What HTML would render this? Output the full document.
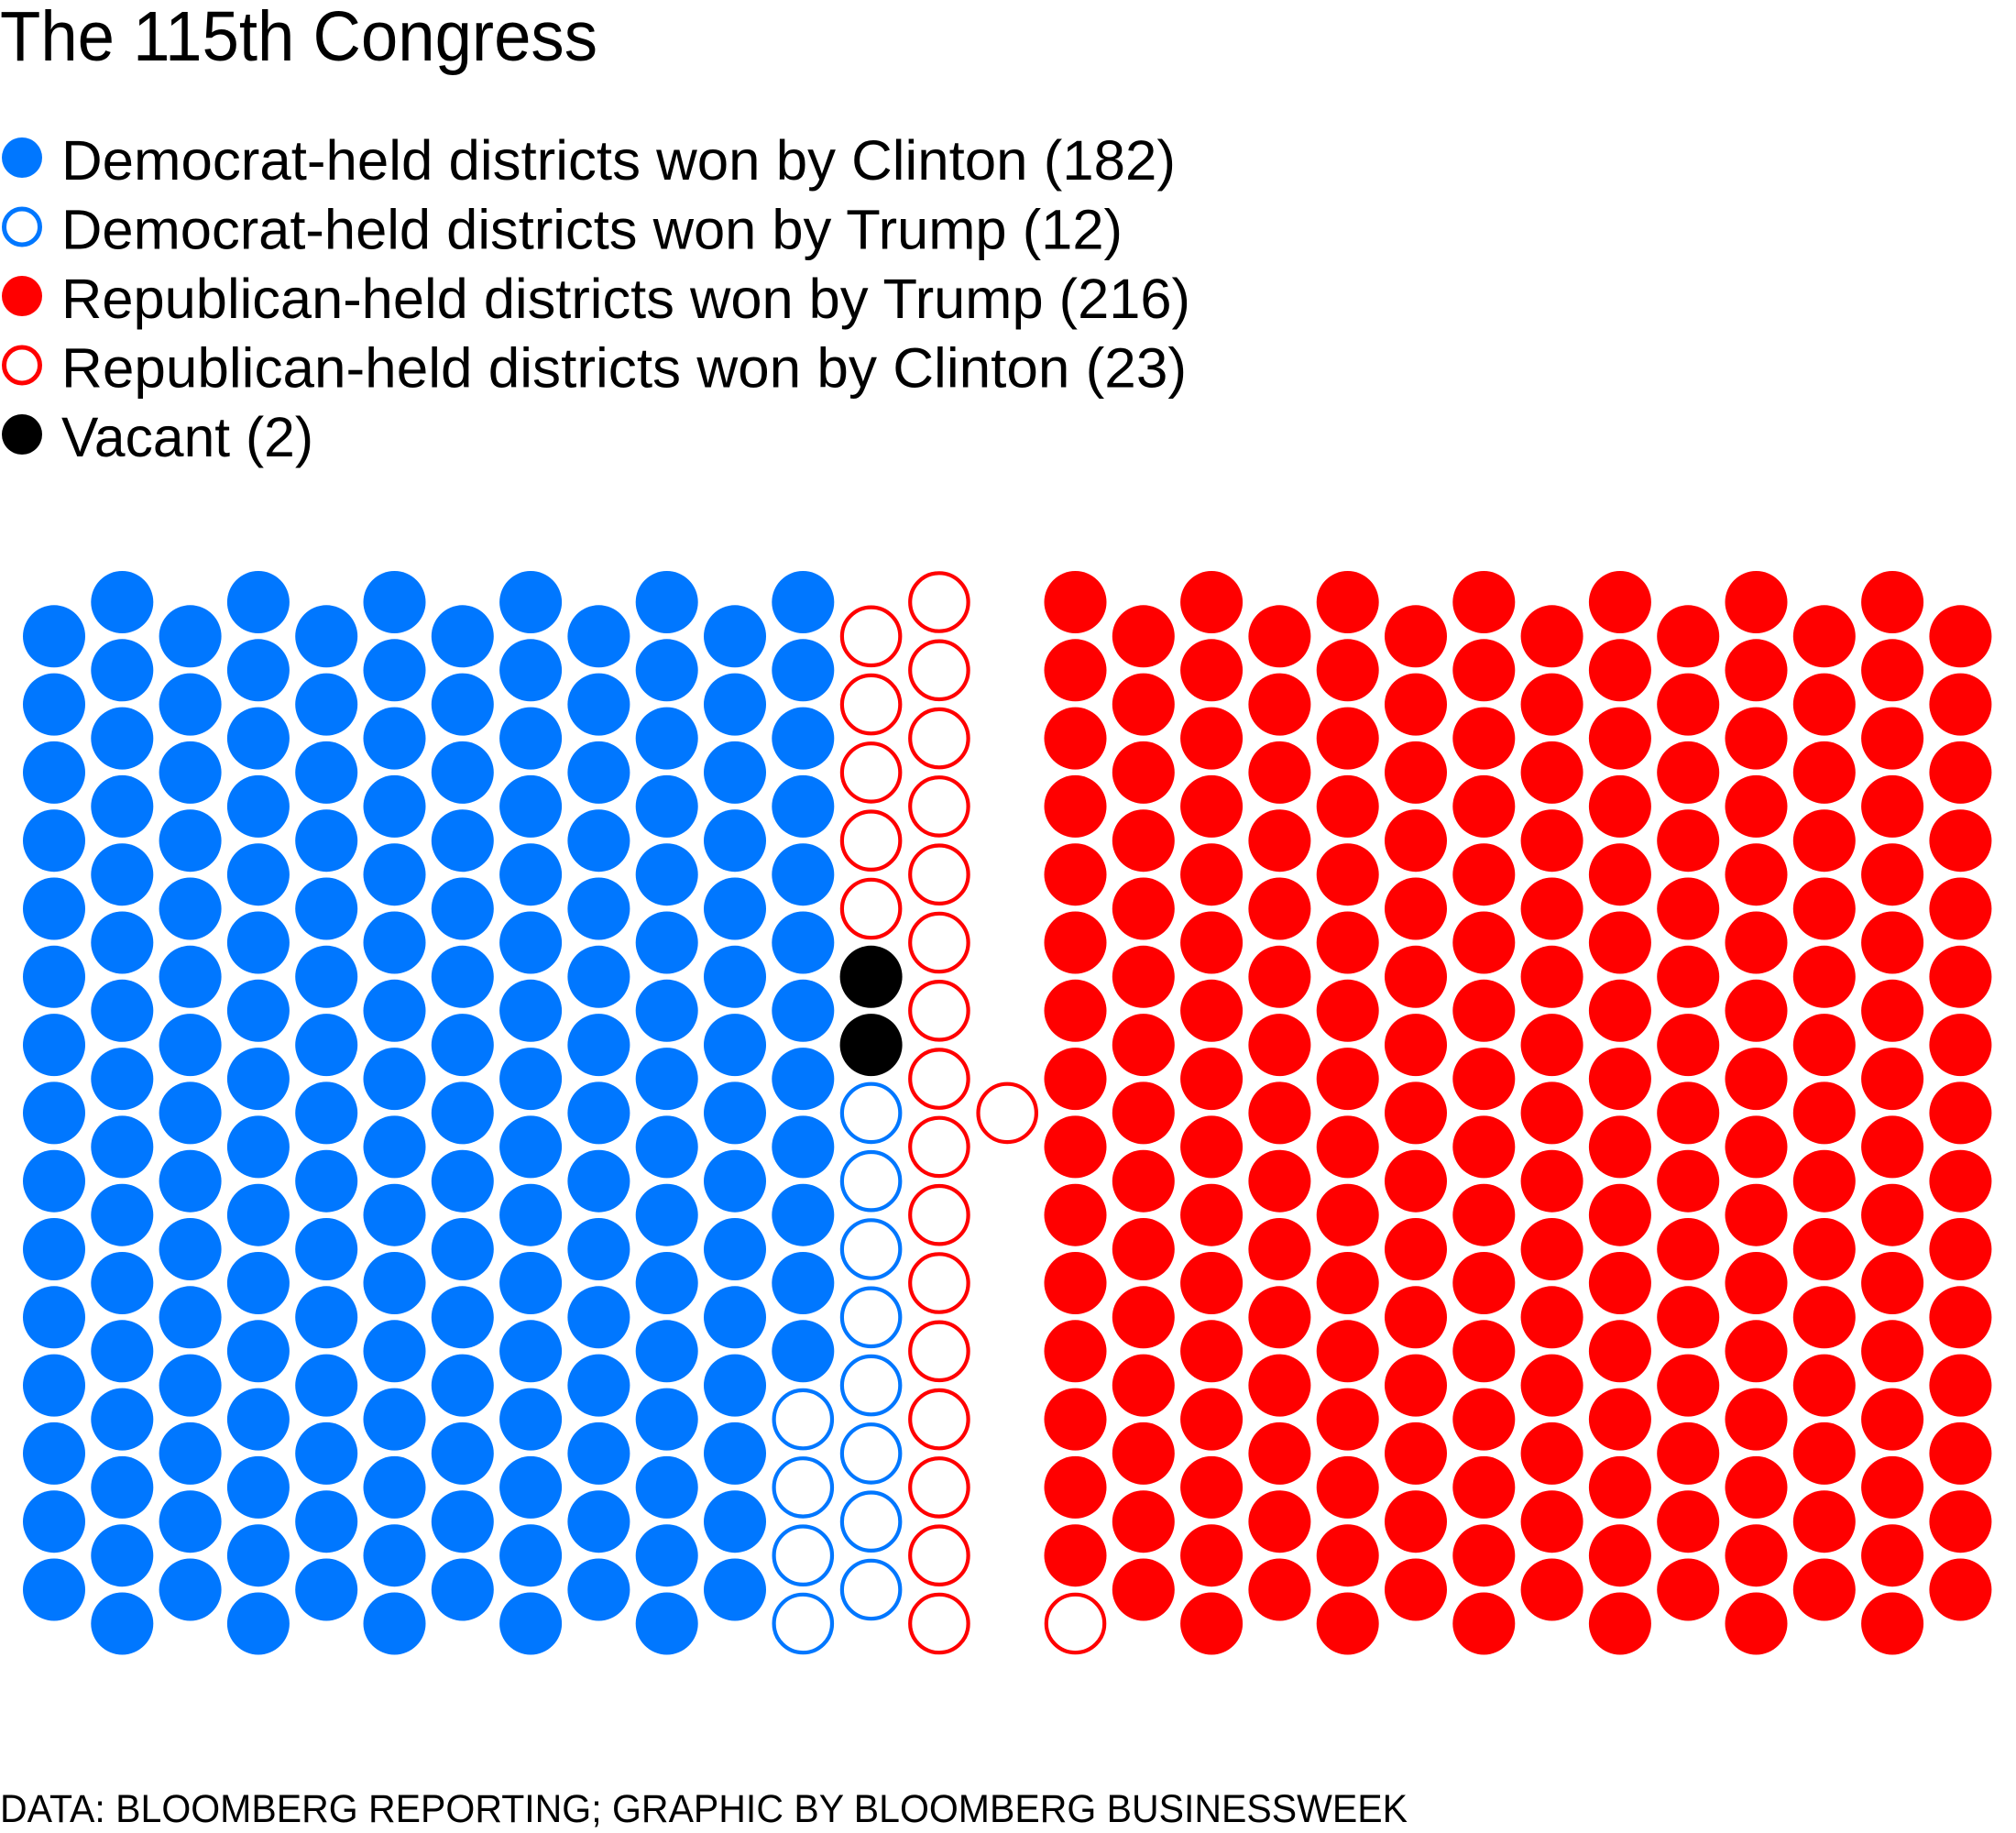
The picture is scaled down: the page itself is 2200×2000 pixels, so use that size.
<!DOCTYPE html>
<html><head><meta charset="utf-8"><style>
html,body{margin:0;padding:0;background:#fff;}
svg{display:block;font-family:"Liberation Sans",sans-serif;}
</style></head><body>
<svg id="chart" width="2200" height="2000" viewBox="0 0 2200 2000">
<text x="0" y="66" font-size="77" textLength="652" lengthAdjust="spacingAndGlyphs" fill="#000">The 115th Congress</text>
<g id="legend"></g>
<g id="dots"></g>
<text x="0" y="1988" font-size="43" textLength="1536" lengthAdjust="spacingAndGlyphs" fill="#000">DATA: BLOOMBERG REPORTING; GRAPHIC BY BLOOMBERG BUSINESSWEEK</text>
</svg>
<script>
const categories = ["Democrat-held districts won by Clinton","Democrat-held districts won by Trump","Vacant","Republican-held districts won by Clinton","Republican-held districts won by Trump"];
const counts = [182, 12, 2, 23, 216];
const legendOrder = [0, 1, 4, 3, 2];
const legendWidths = [1216, 1158, 1232, 1228, 275];
const colors = ["#0077ff","#0077ff","#000000","#ff0000","#ff0000"];
const filled = [true,false,true,false,true];

const NS = "http://www.w3.org/2000/svg";
const svg = document.getElementById('chart');
const leg = document.getElementById('legend');
const dots = document.getElementById('dots');

function mk(tag, attrs, parent){const e=document.createElementNS(NS,tag);for(const k in attrs)e.setAttribute(k,attrs[k]);parent.appendChild(e);return e;}

// legend
legendOrder.forEach((ci,i)=>{
  const cy = 172 + i*75.5;
  const g = mk('g',{},leg);
  
  
  const c = filled[ci] ? mk('circle',{cx:24,cy:cy,r:22,fill:colors[ci]},g) : mk('circle',{cx:24,cy:cy,r:19.5,fill:'none',stroke:colors[ci],'stroke-width':5},g);
  
  
  const t = mk('text',{x:67,y:cy+24,'font-size':61,textLength:legendWidths[i],lengthAdjust:'spacingAndGlyphs',fill:'#000'},g);
  t.textContent = categories[ci] + ' (' + counts[ci] + ')';
  
  
});

// grid layout
const x0=59, dx=74.3, dy=74.3, yEven=694.3, yOdd=657;
function colSlots(c){
  if(c===14) return [[c,7]];
  const n = (c%2===0)?15:16;
  const a=[]; for(let r=0;r<n;r++) a.push([c,r]); return a;
}
let seq=[];
for(let c=0;c<=11;c++) seq=seq.concat(colSlots(c));
for(let c=12;c<=28;c++) seq=seq.concat(colSlots(c).reverse());
let idx=0;
counts.forEach((n,ci)=>{
  for(let k=0;k<n && idx<seq.length;k++,idx++){
    const [c,r]=seq[idx];
    const cx = x0 + c*dx;
    const cy = (c%2===0?yEven:yOdd) + r*dy;
    let e;
    if(filled[ci]) e=mk('circle',{cx:cx,cy:cy,r:34,fill:colors[ci]},dots);
    else e=mk('circle',{cx:cx,cy:cy,r:31.7,fill:'#fff',stroke:colors[ci],'stroke-width':4.2},dots);
    
    
  }
});
</script>
</body></html>
